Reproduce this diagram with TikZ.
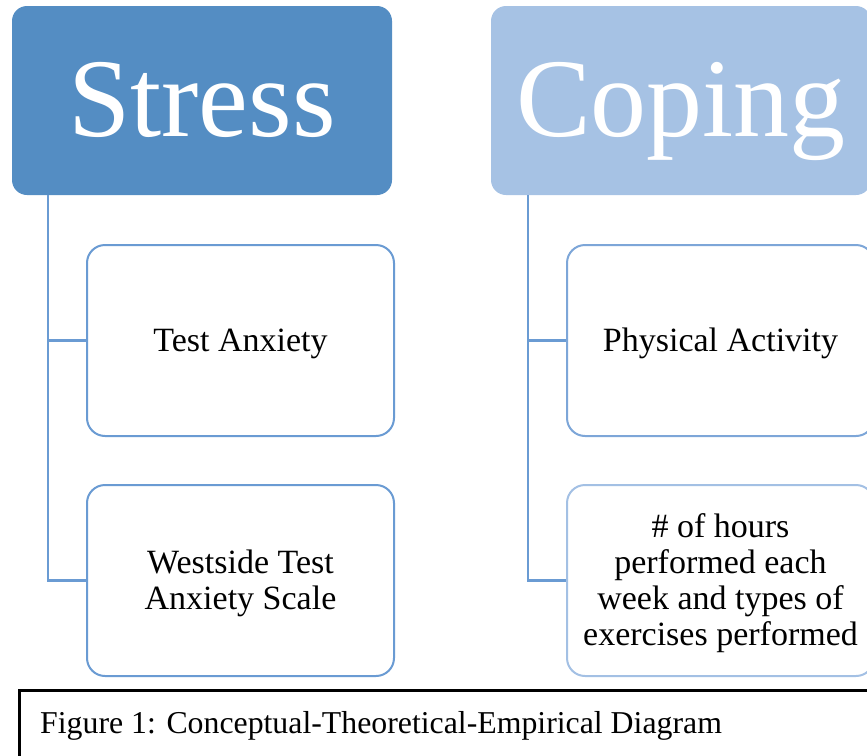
\documentclass[tikz,border=0pt]{standalone}
\usepackage{fontspec}
\setmainfont{Liberation Serif}
\definecolor{stressblue}{HTML}{548DC3}
\definecolor{copingblue}{HTML}{A6C2E4}
\definecolor{linkblue}{HTML}{6A9BD3}
\definecolor{midblue}{HTML}{7DA6D8}
\definecolor{paleblue}{HTML}{A3C0E4}
\begin{document}
\begin{tikzpicture}[x=1pt,y=-1pt,
  head/.style={rounded corners=15pt, inner sep=0pt, minimum width=380pt, minimum height=189pt,
    text=white, font=\fontsize{112}{112}\selectfont, text height=71pt, text depth=0pt},
  item/.style={draw, line width=2pt, rounded corners=18pt, fill=white, inner sep=0pt,
    minimum width=307pt, minimum height=191pt, align=center,
    font=\fontsize{34}{36}\selectfont},
  link/.style={draw=linkblue, line width=2.4pt}]

 \useasboundingbox (0,0) rectangle (867,755);
 \clip (0,0) rectangle (867,755);

 % headers
 \node[head, fill=stressblue] (stress) at (202,100.5) {Stress};
 \node[head, fill=copingblue] (coping) at (681,100.5) {Coping};

 % boxes
 \node[item, draw=linkblue, text height=29pt] (anx) at (240.5,340.5) {Test Anxiety};
 \node[item, draw=linkblue, text height=65pt] (wtas) at (240.5,580.5) {Westside Test\\Anxiety Scale};
 \node[item, draw=midblue, text height=29pt] (phys) at (720.5,340.5) {Physical Activity};
 \node[item, draw=paleblue, text height=137pt] (hours) at (720.5,580.5)
   {\# of hours\\performed each\\week and types of\\exercises performed};

 % connectors
 \draw[link] ([xshift=36pt]stress.south west) |- (anx.west);
 \draw[link] ([xshift=36pt]stress.south west) |- (wtas.west);
 \draw[link] ([xshift=37pt]coping.south west) |- (phys.west);
 \draw[link] ([xshift=37pt]coping.south west) |- (hours.west);

 % caption
 \draw[line width=3pt] (19,690.7) rectangle (900,790);
 \node[anchor=base west, inner sep=0pt, font=\fontsize{31.8}{36}\selectfont] (cap) at (40,733)
   {Figure 1: Conceptual-Theoretical-Empirical Diagram};
\end{tikzpicture}
\end{document}
